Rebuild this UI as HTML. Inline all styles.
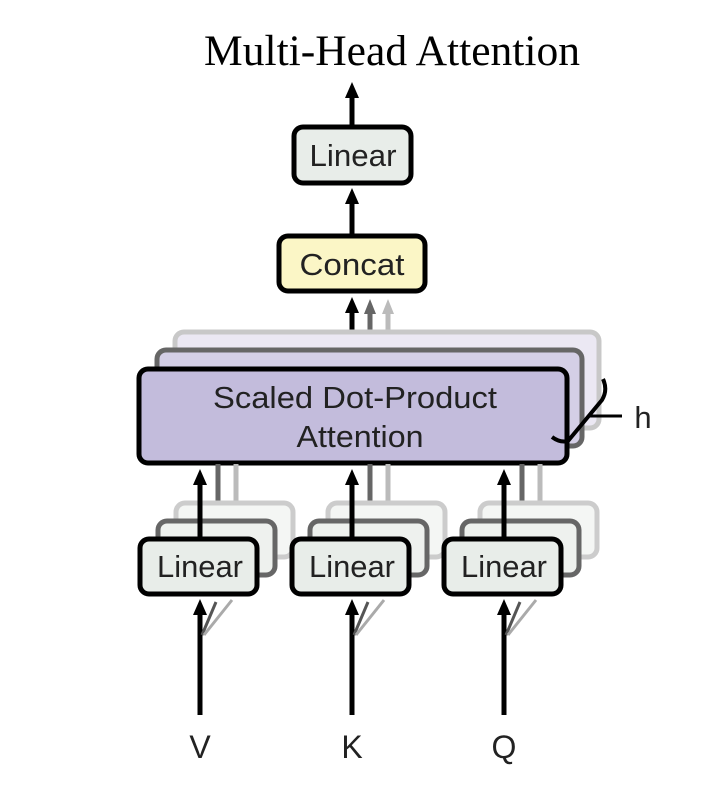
<!DOCTYPE html>
<html><head><style>body{margin:0;background:#fff}svg{display:block}</style></head><body>
<svg width="723" height="798" viewBox="0 0 723 798" xmlns="http://www.w3.org/2000/svg">
<g font-family="Liberation Sans, sans-serif" text-anchor="middle">
<text x="392" y="65" font-family="Liberation Serif, serif" font-size="43" textLength="376" lengthAdjust="spacingAndGlyphs" fill="#000">Multi-Head Attention</text>

<line x1="352" y1="126" x2="352" y2="96" stroke="#000" stroke-width="5"/>
<path d="M345,98 L352,82 L359,98z" fill="#000"/>
<line x1="352" y1="234" x2="352" y2="203" stroke="#000" stroke-width="5"/>
<path d="M345,204 L352,188 L359,204z" fill="#000"/>

<rect x="294" y="127" width="117" height="56" rx="9" fill="#e8ede9" stroke="#000" stroke-width="5"/>
<text x="353" y="166" font-size="31" textLength="87" lengthAdjust="spacingAndGlyphs" fill="#222">Linear</text>
<rect x="279" y="236" width="146" height="55" rx="9" fill="#fbf6c6" stroke="#000" stroke-width="5"/>
<text x="352" y="275" font-size="31" textLength="105" lengthAdjust="spacingAndGlyphs" fill="#222">Concat</text>

<line x1="388" y1="332" x2="388" y2="312" stroke="#bbb" stroke-width="5"/>
<path d="M382,314 L388,299 L394,314z" fill="#bbb"/>
<line x1="370" y1="350" x2="370" y2="312" stroke="#666" stroke-width="5"/>
<path d="M364,314 L370,299 L376,314z" fill="#666"/>
<line x1="352" y1="368" x2="352" y2="312" stroke="#000" stroke-width="5"/>
<path d="M345,313 L352,297 L359,313z" fill="#000"/>

<rect x="175" y="332" width="424" height="96" rx="9" fill="#ebe8f3" stroke="#c8c8c8" stroke-width="5"/>
<rect x="157" y="350" width="425" height="96" rx="9" fill="#d4cfe6" stroke="#666" stroke-width="5"/>
<rect x="139" y="369" width="428" height="94" rx="9" fill="#c3bcdc" stroke="#000" stroke-width="5"/>
<text x="355" y="408" font-size="31" textLength="284" lengthAdjust="spacingAndGlyphs" fill="#222">Scaled Dot-Product</text>
<text x="360" y="447" font-size="31" textLength="127" lengthAdjust="spacingAndGlyphs" fill="#222">Attention</text>
<path d="M552,437 Q560,443 568,441 L602,400 Q608,390 603,379" fill="none" stroke="#000" stroke-width="4"/>
<line x1="588" y1="416" x2="622" y2="416" stroke="#000" stroke-width="3"/>
<text x="643" y="428" font-size="31" fill="#222">h</text>

<g id="s1">
<line x1="236" y1="503" x2="236" y2="464" stroke="#bbb" stroke-width="5"/>
<line x1="218" y1="521" x2="218" y2="464" stroke="#666" stroke-width="5"/>
<rect x="176" y="503" width="117" height="54" rx="9" fill="#f4f6f4" stroke="#ccc" stroke-width="5"/>
<rect x="158" y="521" width="117" height="54" rx="9" fill="#eef1ee" stroke="#666" stroke-width="5"/>
<line x1="200" y1="538" x2="200" y2="484" stroke="#000" stroke-width="5"/>
<path d="M193,485 L200,469 L207,485z" fill="#000"/>
<rect x="140" y="539" width="117" height="55" rx="9" fill="#e8ede9" stroke="#000" stroke-width="5"/>
<text x="200" y="577" font-size="31" textLength="86" lengthAdjust="spacingAndGlyphs" fill="#222">Linear</text>
<line x1="200" y1="715" x2="200" y2="614" stroke="#000" stroke-width="5"/>
<path d="M193,615 L200,599 L207,615z" fill="#000"/>
<line x1="202" y1="635" x2="216" y2="602" stroke="#555" stroke-width="3"/>
<line x1="204" y1="635" x2="232" y2="600" stroke="#aaa" stroke-width="3"/>
</g>
<use href="#s1" transform="translate(152,0)"/>
<use href="#s1" transform="translate(304,0)"/>
<text x="200" y="758" font-size="32" fill="#222">V</text>
<text x="352" y="758" font-size="32" fill="#222">K</text>
<text x="504" y="758" font-size="32" fill="#222">Q</text>
</g>
</svg>
</body></html>
